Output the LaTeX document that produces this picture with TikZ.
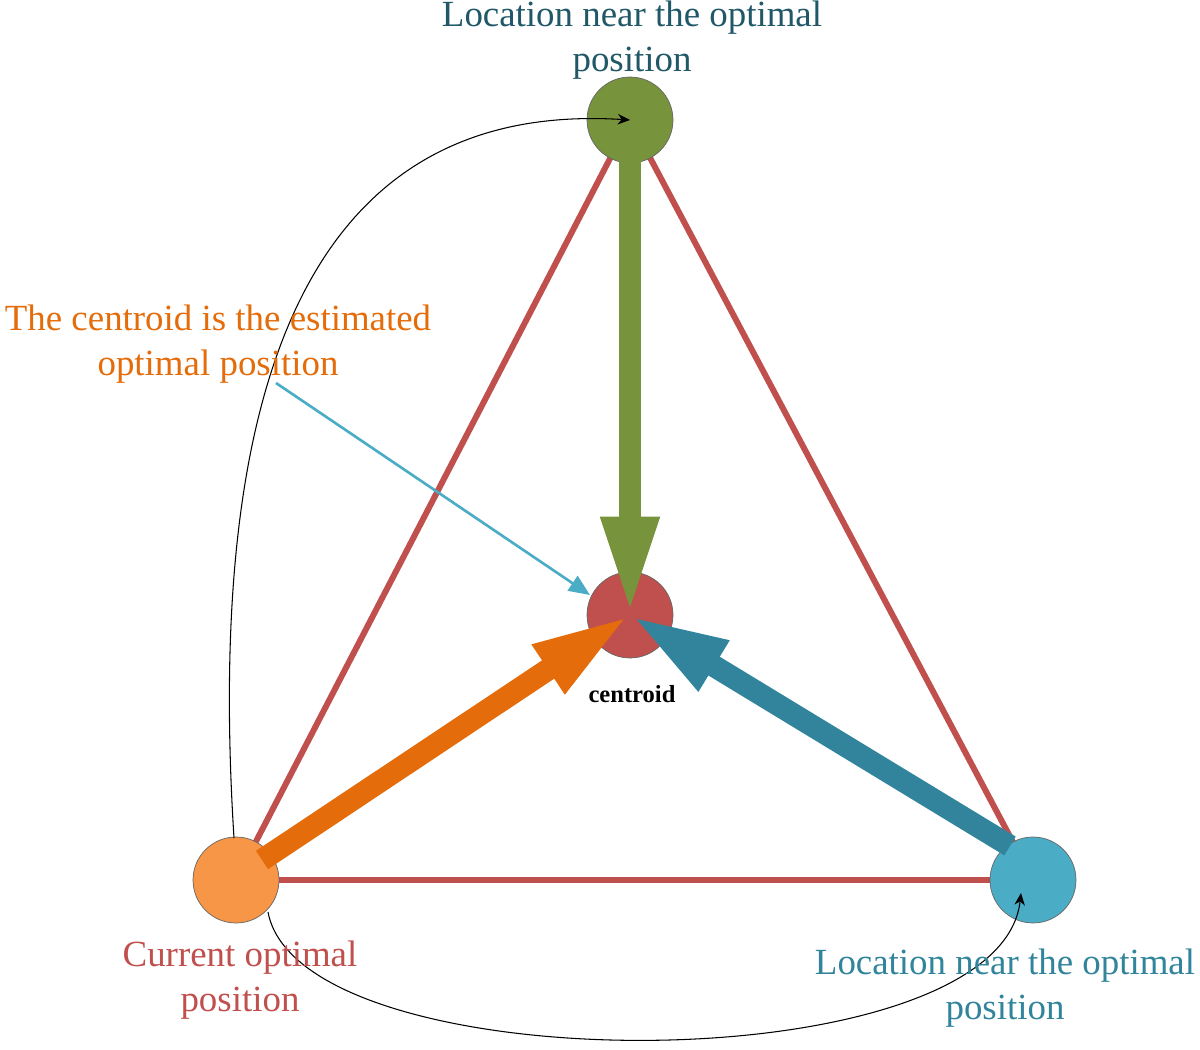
\documentclass[tikz,border=0pt]{standalone}
\usepackage{fontspec}
\setmainfont{Liberation Serif}
\usetikzlibrary{arrows.meta}
\definecolor{cred}{HTML}{C0504D}
\definecolor{cgreen}{HTML}{77933C}
\definecolor{corange}{HTML}{F79646}
\definecolor{corange2}{HTML}{E46C0A}
\definecolor{cblue}{HTML}{4BACC6}
\definecolor{cteal}{HTML}{31849B}
\definecolor{cdark}{HTML}{215868}
\begin{document}
\begin{tikzpicture}[x=0.02cm,y=-0.02cm,
  circ/.style={circle,draw=black!60,line width=0.4pt,minimum size=1.72cm,inner sep=0pt},
  edge/.style={cred,line width=3.4pt},
  big/.style={line width=12.5pt,-{Triangle[length=56pt,width=30pt]}},
  thin/.style={black,line width=0.6pt,-{Stealth[length=7pt,width=6pt]}},
  lbl/.style={font=\fontsize{21}{25.5}\selectfont,align=center}]
\useasboundingbox (0,0) rectangle (1200,1050);
\coordinate (T) at (630,120);
\coordinate (C) at (630,615);
\coordinate (L) at (236,880);
\coordinate (R) at (1033,880);
\draw[edge] (T) -- (L) (T) -- (R) (L) -- (R);
\node[circ,fill=cgreen] (t) at (T) {};
\node[circ,fill=cred] (c) at (C) {};
\node[circ,fill=corange] (l) at (L) {};
\node[circ,fill=cblue] (r) at (R) {};
\coordinate (gs) at (630,160);
\coordinate (os) at (262,860);
\coordinate (bs) at (1010,846);
\draw[big,cgreen] (gs) -- (C);
\draw[big,corange2] (os) -- (C);
\draw[big,cteal] (bs) -- (C);
\node[font=\fontsize{14}{16}\selectfont\bfseries] (cl) at (632,694) {centroid};
\coordinate (a1) at (234,838);
\draw[thin] (a1) .. controls (205,380) and (310,100) .. (T);
\coordinate (b1) at (268,912);
\coordinate (b2) at (1021,893);
\draw[thin] (b1) .. controls (300,1085) and (1000,1085) .. (b2);
\coordinate (p1) at (276,383);
\coordinate (p2) at (590,595);
\draw[cblue,line width=1.5pt,-{Triangle[length=12pt,width=10pt]}] (p1) -- (p2);
\node[lbl,text=cdark] (lt) at (632,40) {Location near the optimal\\position};
\node[lbl,text=corange2] (lo) at (218,344) {The centroid is the estimated\\optimal position};
\node[lbl,text=cred] (ll) at (240,980) {Current optimal\\position};
\node[lbl,text=cteal] (lr) at (1005,988) {Location near the optimal\\position};
\end{tikzpicture}
\end{document}
